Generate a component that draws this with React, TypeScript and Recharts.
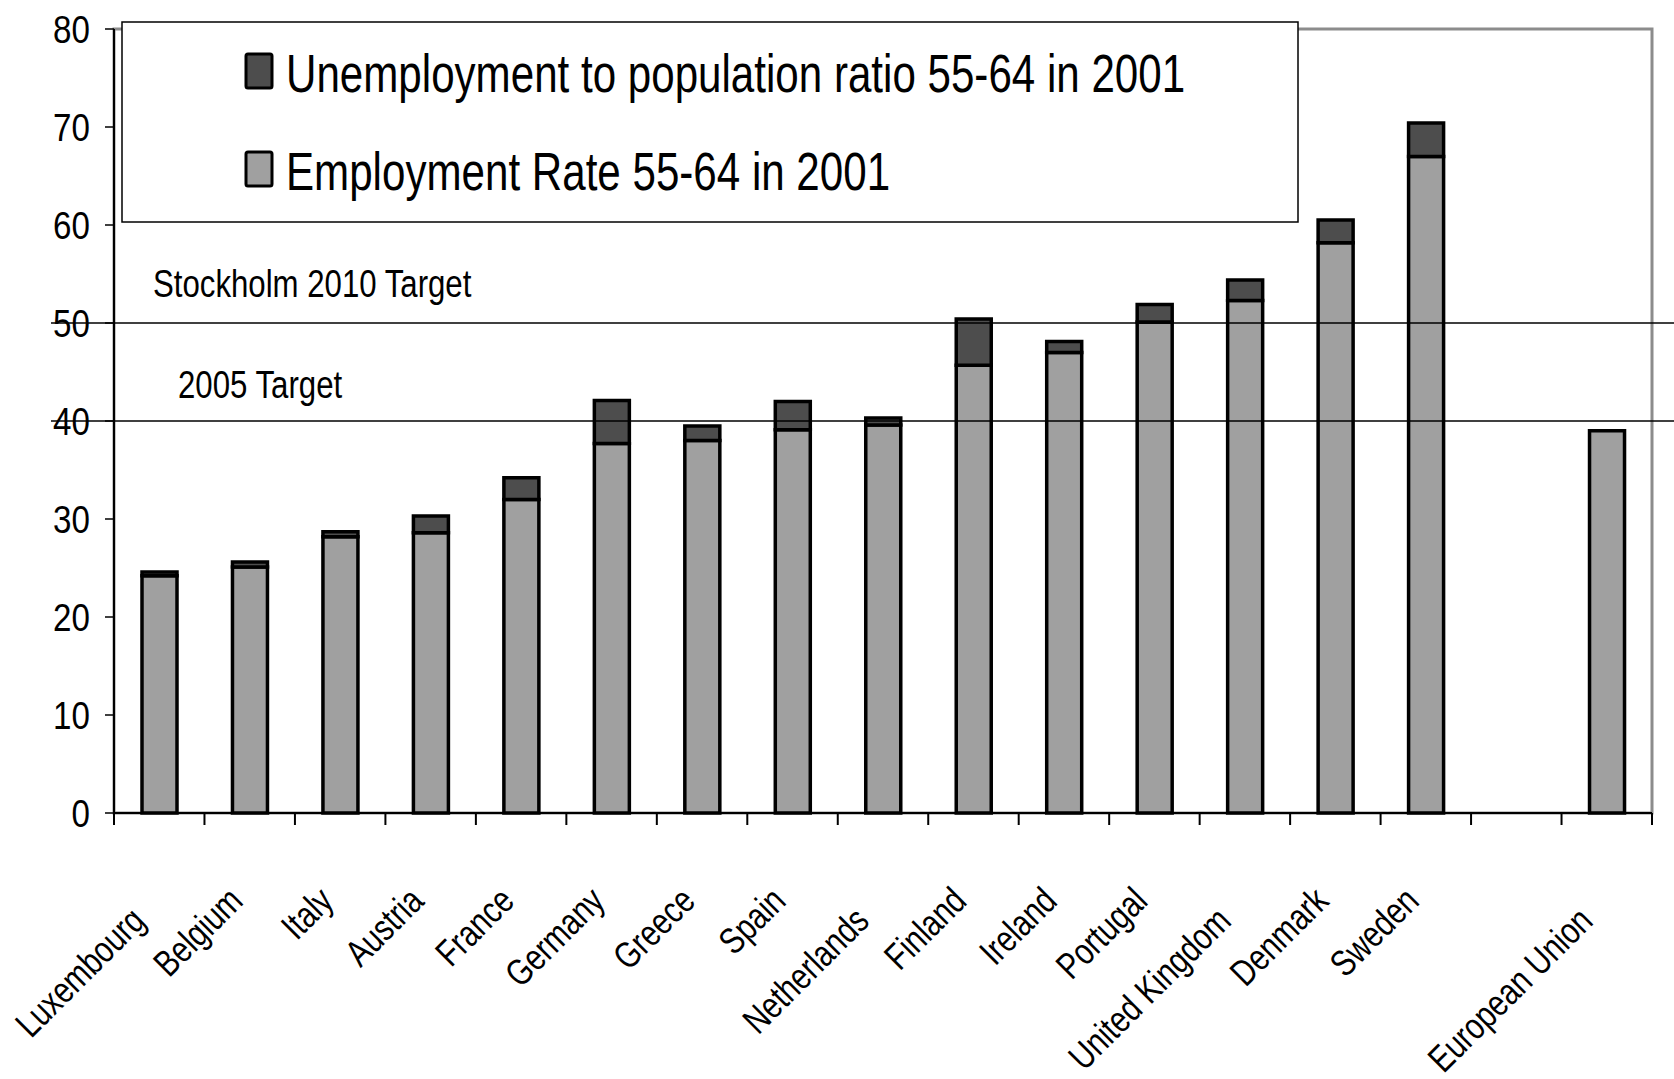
import React from 'react';
import { BarChart, Bar, XAxis, YAxis, ReferenceLine, ReferenceArea } from 'recharts';

// Employment of older workers (55-64), 2001
const categories = [
  'Luxembourg', 'Belgium', 'Italy', 'Austria', 'France', 'Germany', 'Greece', 'Spain',
  'Netherlands', 'Finland', 'Ireland', 'Portugal', 'United Kingdom', 'Denmark', 'Sweden',
  '', 'European Union',
];
const employmentRate = [
  24.2, 25.1, 28.2, 28.6, 32.0, 37.7, 38.0, 39.1, 39.6, 45.7, 47.0, 50.1, 52.3, 58.2, 67.0, null, 39.0,
];
const unemploymentRatio = [
  0.4, 0.5, 0.5, 1.7, 2.2, 4.4, 1.5, 2.9, 0.7, 4.7, 1.1, 1.8, 2.1, 2.3, 3.4, null, null,
];
const yTicks = [0, 10, 20, 30, 40, 50, 60, 70, 80];
const targetValues = [50, 40];
const targetLabels = ['Stockholm 2010 Target', '2005 Target'];

const series = [
  { key: 'employment', name: 'Employment Rate 55-64 in 2001', color: '#a0a0a0' },
  { key: 'unemployment', name: 'Unemployment to population ratio 55-64 in 2001', color: '#4d4d4d' },
];

const data = categories.map((name, i) => ({
  name,
  employment: employmentRate[i],
  unemployment: unemploymentRatio[i],
}));

const FONT = "'Liberation Sans', Arial, sans-serif";

// condensed text, close to the Arial Narrow of the original
function NarrowText({ x, y, size, anchor = 'start', angle = 0, sx = 0.8, children }: any) {
  return (
    <text
      transform={`translate(${x},${y}) rotate(${angle}) scale(${sx},1)`}
      textAnchor={anchor}
      fontSize={size}
      fontFamily={FONT}
      fill="#000"
    >
      {children}
    </text>
  );
}

function ValueTick({ x, y, payload }: any) {
  return (
    <NarrowText x={x} y={y + 13.5} size={39} sx={0.85} anchor="end">
      {payload.value}
    </NarrowText>
  );
}

function CountryTick({ x, y, payload, index }: any) {
  const half = payload?.offset ?? 45.2;
  const label = String(payload.value ?? '');
  const isLast = index === categories.length - 1;
  const long = label.length > 9;
  return (
    <g>
      <line x1={x - half} y1={y} x2={x - half} y2={y + 12} stroke="#000" strokeWidth={2} />
      {isLast && <line x1={x + half} y1={y} x2={x + half} y2={y + 12} stroke="#000" strokeWidth={2} />}
      {label && (
        <NarrowText
          x={x - 5 - (long ? 7 : 0)}
          y={y + 90 + (long ? 20 : 0)}
          size={37}
          anchor="end"
          angle={-45}
        >
          {label}
        </NarrowText>
      )}
    </g>
  );
}

// label offsets for the two target lines
const targetLabelPos = [
  { dx: 39, dy: -26 },
  { dx: 64, dy: -23 },
];

function TargetLine(props: any) {
  const { x1, y1, x2, y2 } = props;
  return <line x1={x1 - 63} y1={y1} x2={x2 + 22} y2={y2} stroke="#000" strokeWidth={1.5} />;
}

function Legend() {
  const items = [...series].reverse();
  return (
    <svg style={{ position: 'absolute', left: 0, top: 0 }} width={1674} height={240}>
      <rect x={122} y={22} width={1176} height={200} fill="#fff" stroke="#000" strokeWidth={1.5} />
      {items.map((s, i) => (
        <g key={s.key}>
          <rect x={246} y={54 + i * 98} width={26} height={34} rx={2} fill={s.color} stroke="#000" strokeWidth={3} />
          <NarrowText x={286} y={92 + i * 98} size={53} sx={0.795}>
            {s.name}
          </NarrowText>
        </g>
      ))}
    </svg>
  );
}

export default function App() {
  return (
    <div style={{ position: 'absolute', left: 0, top: 0, width: 1674, height: 1079, background: '#fff' }}>
      <BarChart width={1674} height={1079} data={data} margin={{ top: 29, right: 22, bottom: 0, left: 0 }}>
        <ReferenceArea
          x1={categories[0]}
          x2={categories[categories.length - 1]}
          y1={0}
          y2={80}
          fill="none"
          stroke="#8c8c8c"
          strokeWidth={3}
        />
        {series.map((s) => (
          <Bar
            key={s.key}
            dataKey={s.key}
            name={s.name}
            stackId="a"
            fill={s.color}
            stroke="#000"
            strokeWidth={3.5}
            barSize={35}
            isAnimationActive={false}
          />
        ))}
        <XAxis
          dataKey="name"
          interval={0}
          height={266}
          tickSize={0}
          tickMargin={0}
          tickLine={false}
          axisLine={{ stroke: '#000', strokeWidth: 2 }}
          tick={<CountryTick />}
        />
        <YAxis
          domain={[0, 80]}
          ticks={yTicks}
          interval={0}
          width={114}
          tickSize={9}
          tickMargin={15}
          axisLine={{ stroke: '#000', strokeWidth: 2 }}
          tickLine={{ stroke: '#000', strokeWidth: 1.5 }}
          tick={<ValueTick />}
        />
        {targetValues.map((v, i) => (
          <ReferenceLine
            key={v}
            y={v}
            shape={<TargetLine />}
            label={(p: any) => {
              const vb = p.viewBox || p;
              return (
                <NarrowText x={vb.x + targetLabelPos[i].dx} y={vb.y + targetLabelPos[i].dy} size={39}>
                  {targetLabels[i]}
                </NarrowText>
              );
            }}
          />
        ))}
      </BarChart>
      <Legend />
    </div>
  );
}
